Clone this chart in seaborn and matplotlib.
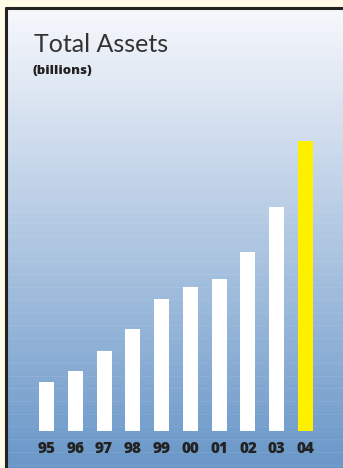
import numpy as np
import pandas as pd
import matplotlib
matplotlib.use("Agg")
import matplotlib.pyplot as plt
import seaborn as sns

years = ["95", "96", "97", "98", "99", "00", "01", "02", "03", "04"]
assets = [4.9, 6.0, 8.0, 10.2, 13.2, 14.4, 15.2, 17.9, 22.4, 29.0]
bar_colors = ["#ffffff"] * 9 + ["#fff000"]
title = "Total Assets"
subtitle = "(billions)"

sns.set_theme(style="white")
plt.rcParams["font.family"] = ["Lato", "DejaVu Sans"]

W, H = 343, 468
fig = plt.figure(figsize=(W / 100, H / 100), dpi=100, frameon=True)
fig.patch.set_facecolor("#fffbe6")
fig.patch.set_edgecolor("#fffbe6")
fig.patch.set_linewidth(0)

# background panel with gradient
bg = fig.add_axes([0, 0, 1, 1])
bg.set_frame_on(False)
bg.set_axis_off()
top = np.array([247, 248, 252]) / 255
bot = np.array([104, 150, 200]) / 255
t = np.linspace(0, 1, 256)[:, None, None]
grad = top * (1 - t) + bot * t
grad = np.repeat(grad, 2, axis=1)
bg.imshow(grad, extent=[6, W + 5, H + 5, 8], aspect="auto", interpolation="bilinear", zorder=0)
for yy in np.arange(20, H, 12.7):
    bg.plot([7, W + 5], [yy, yy], color="white", alpha=0.07, lw=0.8, zorder=1)
bg.plot([6, 6], [H + 5, 7], color="#222222", lw=2.2, solid_capstyle="butt", zorder=2)
bg.plot([5, W + 5], [7.5, 7.5], color="#222222", lw=2.2, solid_capstyle="butt", zorder=2)
bg.set_xlim(0, W)
bg.set_ylim(H, 0)

bg.text(33.5, 51.5, title, fontsize=18, color="#333333", ha="left", va="baseline",
        fontweight="normal")
bg.text(32.5, 74, subtitle, fontsize=9.5, color="#222222", ha="left", va="baseline",
        fontweight=800, family="Open Sans")

# bar axes
left_px, right_px = 32.1, 319.9
bottom_px, top_px = 431, 131
ax = fig.add_axes([left_px / W, (H - bottom_px) / H,
                   (right_px - left_px) / W, (bottom_px - top_px) / H])
df = pd.DataFrame({"year": years, "assets": assets})
sns.barplot(data=df, x="year", y="assets", hue="year", palette=bar_colors,
            legend=False, width=0.52, ax=ax, saturation=1, linewidth=0)
ax.set_xlim(-0.5, 9.5)
ax.set_ylim(0, 30.0)
ax.patch.set_alpha(0)
for s in ax.spines.values():
    s.set_visible(False)
ax.set_yticks([])
ax.set_xlabel("")
ax.set_ylabel("")
ax.tick_params(axis="x", length=0, pad=7)
ax.set_xticks(range(len(years)))
ax.set_xticklabels(years, fontsize=11, fontweight=800, color="#222222",
                   family="Open Sans")

fig.savefig("out.png", dpi=100, facecolor=fig.get_facecolor(), edgecolor="none")
